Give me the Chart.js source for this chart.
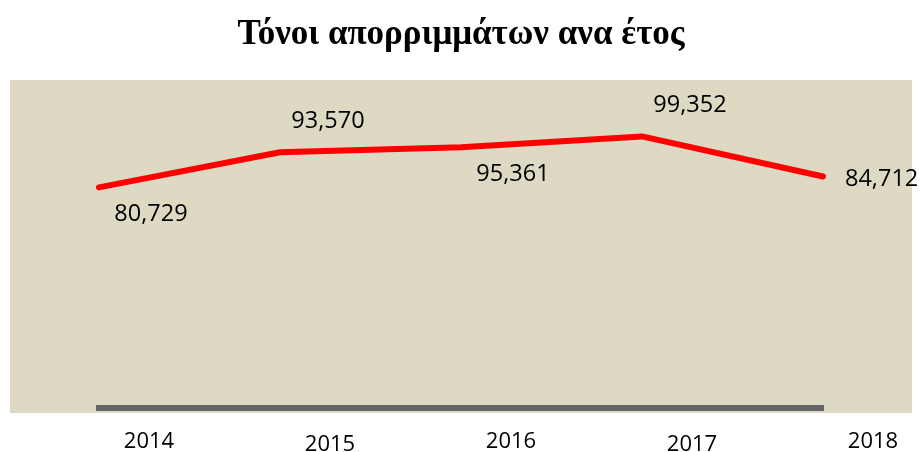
<!DOCTYPE html>
<html>
<head>
<meta charset="utf-8">
<script src="https://cdn.jsdelivr.net/npm/chart.js@4"></script>
<style>
  html, body { margin: 0; padding: 0; background: #fff; }
  #wrap { width: 920px; height: 452px; }
</style>
</head>
<body>
<div id="wrap"><canvas id="grafico"></canvas></div>
<script>
// Datos del gráfico
const anos = ['2014', '2015', '2016', '2017', '2018'];
const toneladas = [80729, 93570, 95361, 99352, 84712];
// posición de cada etiqueta de valor respecto al punto
const posEtiqueta = ['below', 'above', 'below', 'above', 'right'];

const FONDO = '#ddd9c3';
const fmt = v => v.toLocaleString('en-US');

// fondo beige detrás del área del gráfico
const fondoPlugin = {
  id: 'fondo',
  beforeDraw(chart) {
    const { ctx, chartArea } = chart;
    ctx.save();
    ctx.fillStyle = FONDO;
    ctx.fillRect(10, chartArea.top, chart.width - 18, chartArea.bottom - chartArea.top + 5);
    ctx.restore();
  }
};

// etiquetas con los valores
const valoresPlugin = {
  id: 'valores',
  afterDatasetsDraw(chart) {
    const { ctx } = chart;
    const meta = chart.getDatasetMeta(0);
    ctx.save();
    ctx.font = '23.5px "Open Sans"';
    ctx.fillStyle = '#000';
    ctx.textBaseline = 'middle';
    meta.data.forEach((pt, i) => {
      const txt = fmt(toneladas[i]);
      const pos = posEtiqueta[i];
      if (pos === 'right') {
        ctx.textAlign = 'left';
        ctx.fillText(txt, pt.x + 22, pt.y + 3);
      } else if (pos === 'above') {
        ctx.textAlign = 'center';
        ctx.fillText(txt, pt.x + 48, pt.y - 31);
      } else {
        ctx.textAlign = 'center';
        ctx.fillText(txt, pt.x + 52, pt.y + 27);
      }
    });
    ctx.restore();
  }
};

new Chart(document.getElementById('grafico'), {
  type: 'line',
  data: {
    labels: anos,
    datasets: [{
      data: toneladas,
      borderColor: '#ff0000',
      borderWidth: 6,
      borderCapStyle: 'round',
      borderJoinStyle: 'round',
      pointRadius: 0,
      tension: 0,
      fill: false
    }]
  },
  options: {
    responsive: true,
    maintainAspectRatio: false,
    animation: false,
    layout: { padding: { left: 99, right: 97, top: 0, bottom: -22 } },
    plugins: {
      legend: { display: false },
      tooltip: { enabled: false },
      title: {
        display: true,
        text: 'Τόνοι απορριμμάτων ανα έτος',
        color: '#000',
        font: { family: '"Liberation Serif"', size: 35, weight: 'bold', lineHeight: 1.2 },
        padding: { top: 14, bottom: 24 }
      }
    },
    scales: {
      x: {
        offset: false,
        grid: { display: false },
        border: { display: true, color: '#646464', width: 6 },
        ticks: {
          color: '#000',
          padding: 25,
          labelOffset: 50,
          maxRotation: 0,
          autoSkip: false,
          // alternar ligeramente la altura de las etiquetas
          font: ctx => ({
            family: '"Open Sans"',
            size: 22,
            lineHeight: (ctx.index % 2) ? '8px' : '2px'
          })
        }
      },
      y: {
        display: false,
        min: 0,
        max: 120000
      }
    }
  },
  plugins: [fondoPlugin, valoresPlugin]
});
</script>
</body>
</html>
